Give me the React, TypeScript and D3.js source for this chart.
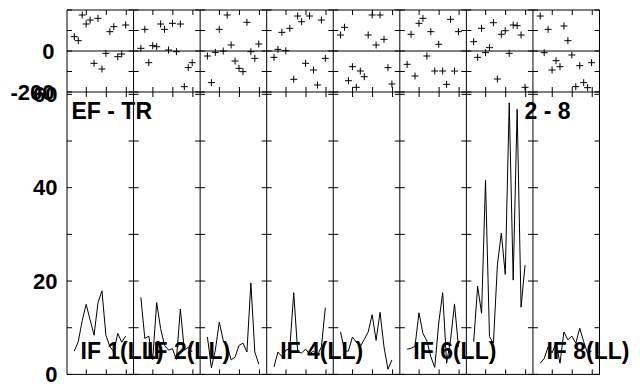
import React from "react";
import * as d3 from "d3";

const W = 640;
const H = 387;

// Panel labels
const IF_LABELS = ["IF 1(LL)", "IF 2(LL)", "", "IF 4(LL)", "", "IF 6(LL)", "", "IF 8(LL)"];
const SOURCE_LABEL = "EF - TR";
const BASELINE_LABEL = "2 - 8";

// Scan times (column units)
const TIMES = [7.3, 11.25, 15.2, 19.15, 23.1, 27.05, 31.0, 34.95, 38.9, 42.85, 46.8, 50.75, 54.7, 58.65];
const TIME_SPAN = [0, 66.56];
const TIME_TICKS = [19.3, 39.3, 59.3];

// Amplitudes per IF
const AMP_IF1 = [5.0, 7.0, 11.5, 15.0, 11.7, 8.4, 15.4, 17.9, 8.4, 6.0, 4.8, 8.8, 6.9, 8.2];
const AMP_IF2 = [16.5, 7.7, 8.2, 3.2, 15.4, 9.8, 6.2, 5.2, 5.5, 3.2, 14.0, 5.2, 5.8, 4.8];
const AMP_IF3 = [8.0, 1.4, 5.2, 11.2, 7.3, 6.2, 3.1, 3.7, 6.2, 6.7, 4.8, 19.6, 4.8, 2.2];
const AMP_IF4 = [1.6, 4.8, 3.8, 5.2, 5.5, 17.5, 4.8, 4.6, 5.4, 4.4, 5.0, 4.1, 5.9, 14.3];
const AMP_IF5 = [9.1, 5.0, 5.0, 8.0, 6.9, 6.0, 7.5, 9.1, 12.8, 7.3, 13.3, 5.9, 1.1, 3.1];
const AMP_IF6 = [5.4, 5.6, 6.0, 13.2, 8.8, 7.2, 3.8, 1.5, 11.0, 17.5, 2.4, 7.4, 15.1, 5.9];
const AMP_IF7 = [7.0, 18.9, 13.1, 41.6, 8.1, 6.7, 23.4, 30.3, 21.4, 58.2, 20.2, 56.8, 14.4, 23.4];
const AMP_IF8 = [2.4, 3.4, 5.9, 4.6, 6.7, 2.4, 9.1, 7.4, 8.2, 6.7, 9.9, 7.0, 4.5, 5.0];

// Phases per IF (degrees)
const PH_IF1 = [69.9, 50.4, 175.6, 131.7, 151, -60.2, 159.3, -87.8, -11.4, 94.3, 118.7, -27.6, -14.6, 126.8];
const PH_IF2 = [13, 105.7, -57, 26, 21, 131.7, 105.7, 4.9, 135, -3.3, 131.7, -174, -81, -57];
const PH_IF3 = [-24.4, -154.4, -6.5, 105.7, 0, 175.6, 29.3, -48.8, -84.5, -100.8, 140, -3.3, -35.8, 34];
const PH_IF4 = [-30.9, 8.1, 91, 1.6, 110.6, -138, 170.7, 143, -60.2, 170.7, -92.7, -165.9, 151, -35.8];
const PH_IF5 = [78, 115.6, -144.9, -76.4, -177.1, -97.6, -125.4, 78, 175.6, 29.3, 175.6, 57, -81.3, -161];
const PH_IF6 = [-65, 81.5, -122, 135, 159.3, -24.4, 94.3, -97.6, 32.7, -97.6, -162.6, 154.6, -97.6, 94.3];
const PH_IF7 = [45.4, -30.9, 110.6, -8.1, 16.3, 138, -136.6, 81.5, 99, -11.4, 126.8, 123.5, 78, -177.1];
const PH_IF8 = [170.7, -8.1, 105.7, -92.7, -47.2, -76.4, 122, 50.4, -19.5, -174, -71.5, -154.4, -178.8, -57];

const AMPS = [AMP_IF1, AMP_IF2, AMP_IF3, AMP_IF4, AMP_IF5, AMP_IF6, AMP_IF7, AMP_IF8];
const PHASES = [PH_IF1, PH_IF2, PH_IF3, PH_IF4, PH_IF5, PH_IF6, PH_IF7, PH_IF8];

const PHASE_DOMAIN = [-200, 200];
const PHASE_TICKS = [-200, -100, 0, 100, 200];
const PHASE_LABELS = [-200, 0];
const AMP_DOMAIN = [0, 60.5];
const AMP_TICKS = [0, 10, 20, 30, 40, 50, 60];
const AMP_LABELS = [0, 20, 40, 60];

const LEFT = 67;
const RIGHT = 599.5;
const TOP = 10;
const MID = 92;
const BOTTOM = 374.4;
const TICK = 5;
const FONT = "'Liberation Sans', Arial, Helvetica, sans-serif";

export default function App() {
  const nCol = AMPS.length;
  const colBand = d3.scaleLinear().domain([0, nCol]).range([LEFT, RIGHT]);
  const yPh = d3.scaleLinear().domain(PHASE_DOMAIN).range([MID, TOP]);
  const yAmp = d3.scaleLinear().domain(AMP_DOMAIN).range([BOTTOM, MID]);

  const elems: React.ReactNode[] = [];

  for (let c = 0; c < nCol; c++) {
    const x0 = colBand(c);
    const x1 = colBand(c + 1);
    const xs = d3.scaleLinear().domain(TIME_SPAN).range([x0, x1]);

    // amplitude line
    const line = d3
      .line<number>()
      .x((_, i) => xs(TIMES[i]))
      .y((d) => yAmp(d));
    elems.push(
      <path key={`amp${c}`} d={line(AMPS[c]) || ""} fill="none" stroke="#000" strokeWidth={1} />
    );

    // phase pluses
    PHASES[c].forEach((p, i) => {
      const px = xs(TIMES[i]);
      const py = yPh(p);
      elems.push(
        <path
          key={`ph${c}-${i}`}
          d={`M${px - 3.5},${py}H${px + 3.5}M${px},${py - 3.5}V${py + 3.5}`}
          stroke="#000"
          strokeWidth={1}
          fill="none"
        />
      );
    });

    // zero line in phase panel
    elems.push(
      <line key={`z${c}`} x1={x0} x2={x1} y1={yPh(0)} y2={yPh(0)} stroke="#000" strokeWidth={1} />
    );

    // y ticks inward on both sides
    PHASE_TICKS.forEach((t) => {
      const y = yPh(t);
      elems.push(<line key={`pt${c}-${t}l`} x1={x0} x2={x0 + TICK} y1={y} y2={y} stroke="#000" />);
      elems.push(<line key={`pt${c}-${t}r`} x1={x1 - TICK} x2={x1} y1={y} y2={y} stroke="#000" />);
    });
    AMP_TICKS.forEach((t) => {
      const y = yAmp(t);
      elems.push(<line key={`at${c}-${t}l`} x1={x0} x2={x0 + TICK} y1={y} y2={y} stroke="#000" />);
      elems.push(<line key={`at${c}-${t}r`} x1={x1 - TICK} x2={x1} y1={y} y2={y} stroke="#000" />);
    });

    // x ticks
    TIME_TICKS.forEach((t) => {
      const x = xs(t);
      elems.push(<line key={`xt${c}-${t}a`} x1={x} x2={x} y1={TOP} y2={TOP + TICK} stroke="#000" />);
      elems.push(<line key={`xt${c}-${t}b`} x1={x} x2={x} y1={MID - TICK} y2={MID + TICK} stroke="#000" />);
      elems.push(<line key={`xt${c}-${t}c`} x1={x} x2={x} y1={BOTTOM - TICK} y2={BOTTOM} stroke="#000" />);
    });

    // column border
    elems.push(
      <line key={`cb${c}`} x1={x0} x2={x0} y1={TOP} y2={BOTTOM} stroke="#000" strokeWidth={1} />
    );

    if (IF_LABELS[c]) {
      elems.push(
        <text
          key={`lab${c}`}
          x={x0 + 13.5}
          y={358.5}
          fontFamily={FONT}
          fontWeight="bold"
          fontSize={23}
          fill="#000"
        >
          {IF_LABELS[c]}
        </text>
      );
    }
  }

  return (
    <svg
      width={W}
      height={H}
      style={{ position: "absolute", left: 0, top: 0, background: "#fff" }}
    >
      <rect x={0} y={0} width={W} height={H} fill="#fff" />
      {elems}
      <line x1={RIGHT} x2={RIGHT} y1={TOP} y2={BOTTOM} stroke="#000" />
      <line x1={LEFT} x2={RIGHT} y1={TOP} y2={TOP} stroke="#000" />
      <line x1={LEFT} x2={RIGHT} y1={MID} y2={MID} stroke="#000" />
      <line x1={LEFT} x2={RIGHT} y1={BOTTOM} y2={BOTTOM} stroke="#000" />
      {PHASE_LABELS.map((t) => (
        <text
          key={`pl${t}`}
          x={54.5}
          y={yPh(t) + 7.8}
          textAnchor="end"
          fontFamily={FONT}
          fontWeight="bold"
          fontSize={22}
        >
          {t}
        </text>
      ))}
      {AMP_LABELS.map((t) => (
        <text
          key={`al${t}`}
          x={57.5}
          y={yAmp(t) + 7.8}
          textAnchor="end"
          fontFamily={FONT}
          fontWeight="bold"
          fontSize={22}
        >
          {t}
        </text>
      ))}
      <text x={71.5} y={119} fontFamily={FONT} fontWeight="bold" fontSize={23}>
        {SOURCE_LABEL}
      </text>
      <text x={524.5} y={119} fontFamily={FONT} fontWeight="bold" fontSize={23}>
        {BASELINE_LABEL}
      </text>
    </svg>
  );
}
